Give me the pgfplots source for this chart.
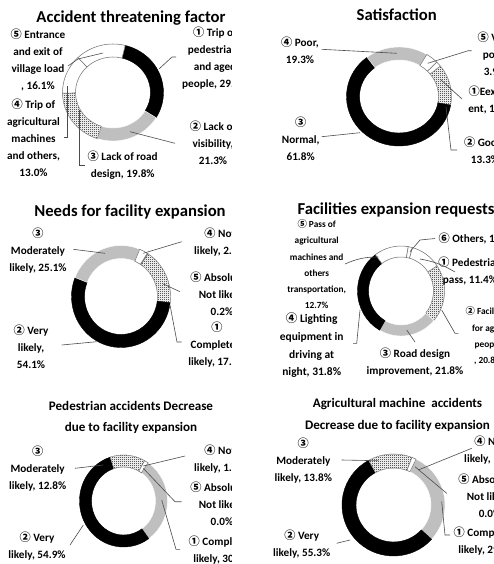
\documentclass[border=0pt]{standalone}
\usepackage{fontspec}
\setmainfont{Carlito}
\newfontfamily\cj{Noto Sans CJK KR}
\newcommand\cn[1]{{\cj #1}}
\usepackage{pgfplots}
\pgfplotsset{compat=1.18}
\usetikzlibrary{patterns}

\pgfdeclarepatternformonly{finedots}{\pgfqpoint{0pt}{0pt}}{\pgfqpoint{1.5pt}{1.5pt}}{\pgfqpoint{1.5pt}{1.5pt}}{%
  \pgfpathcircle{\pgfqpoint{0.375pt}{0.375pt}}{0.42pt}%
  \pgfpathcircle{\pgfqpoint{1.125pt}{1.125pt}}{0.42pt}%
  \pgfusepath{fill}}

\tikzset{
 seg0/.style={fill=black, draw=black, line width=0.3pt},
 seg1/.style={fill=black!25, draw=white, line width=0.3pt},
 seg2/.style={fill=white, postaction={pattern=finedots, pattern color=black}, draw=black!40, line width=0.3pt},
 seg3/.style={fill=white, draw=black!55, line width=0.4pt},
 segcur/.style={seg0},
 lead/.style={draw=black!70, line width=0.45pt},
 lab/.style={font=\bfseries\fontsize{8.4}{12.75}\selectfont, align=center, inner sep=0pt},
 slab/.style={font=\bfseries\fontsize{7}{12.2}\selectfont, align=center, inner sep=0pt},
 ttl/.style={font=\bfseries\fontsize{12.5}{14}\selectfont, align=center, inner sep=0pt},
 sttl/.style={font=\bfseries\fontsize{9.8}{16.2}\selectfont, align=center, inner sep=0pt},
}
\pgfdeclareplotmark{donutseg}{%
  \pgfmathsetmacro\aS{90-\segA}%
  \pgfmathsetmacro\aE{90-\segA-3.6*\segP}%
  \pgfmathsetmacro\rxo{0.75*\Rx}%
  \pgfmathsetmacro\ryo{0.75*\Ry}%
  \pgfmathsetmacro\rxi{0.75*(\Rx-\Th)}%
  \pgfmathsetmacro\ryi{0.75*(\Ry-\Th)}%
  \path[segcur] (\aS:\rxo pt and \ryo pt) arc[start angle=\aS, end angle=\aE, x radius=\rxo pt, y radius=\ryo pt] -- (\aE:\rxi pt and \ryi pt) arc[start angle=\aE, end angle=\aS, x radius=\rxi pt, y radius=\ryi pt] -- cycle;%
}
% one plot per ring segment: x = start angle (deg, clockwise from 12 o'clock), y = share in %
\pgfplotsset{
 donut/.style={hide axis, scale only axis, width=10pt, height=10pt,
  xmin=-1, xmax=1, ymin=-1, ymax=1, clip=false, anchor=center},
 seg/.style={only marks, mark=donutseg,
  x filter/.expression={0}, y filter/.expression={0},
  visualization depends on={rawx\as\segA},
  visualization depends on={rawy\as\segP},
  /tikz/segcur/.style={#1}},
}

\begin{document}
\begin{tikzpicture}[x=0.75pt,y=-0.75pt]
\path[use as bounding box] (0,0) rectangle (493,564);
\clip (0,0) rectangle (493,564);
\fill[white] (0,0) rectangle (493,564);

% ---------- Panel 1 ----------
\begin{scope}
\clip (0,0) rectangle (231,190);
\node[ttl] at (131,18) {Accident threatening factor};
\def\Rx{50.5}\def\Ry{48.5}\def\Th{13}
\begin{axis}[donut, at={({113*0.75pt},{-92.5*0.75pt})}]
\addplot[seg=seg0] coordinates {(14,29.8)};
\addplot[seg=seg1] coordinates {(121.28,21.3)};
\addplot[seg=seg2] coordinates {(197.96,19.8)};
\addplot[seg=seg3] coordinates {(269.24,13.0)};
\addplot[seg=seg3] coordinates {(316.04,16.1)};
\end{axis}
\node[lab] at (38,60.4) {\cn{⑤} Entrance\\and exit of\\village load\\, 16.1\%};
\node[lab] at (33.5,137.5) {\cn{④} Trip of\\agricultural\\machines\\and others,\\13.0\%};
\node[lab] at (122.7,165) {\cn{③} Lack of road\\design, 19.8\%};
\node[lab] at (213,143.1) {\cn{②} Lack of\\visibility,\\21.3\%};
\node[lab] at (215,57.9) {\cn{①} Trip of\\pedestrians\\and aged\\people, 29.8\%};
\draw[lead] (159,69) -- (172,57) -- (176,57);
\draw[lead] (130,131.7) -- (175,143.3);
\draw[lead] (79,110) -- (79,165) -- (85,165);
\draw[lead] (67,86) -- (67,137) -- (63.5,137);
\draw[lead] (68,66) -- (78,59) -- (103,53);
\end{scope}

% ---------- Panel 2 ----------
\node[ttl] at (396.7,15) {Satisfaction};
\def\Rx{52.5}\def\Ry{49.5}\def\Th{13}
\begin{axis}[donut, at={({399*0.75pt},{-96.5*0.75pt})}]
\addplot[seg=seg3] coordinates {(46,1.7)};
\addplot[seg=seg2] coordinates {(52.12,13.3)};
\addplot[seg=seg0] coordinates {(100,61.8)};
\addplot[seg=seg1] coordinates {(322.48,19.3)};
\addplot[seg=seg3] coordinates {(391.96,3.9)};
\end{axis}
\node[lab] at (300,50) {\cn{④} Poor,\\19.3\%};
\node[lab] at (495,53.3) {\cn{⑤} Very\\poor,\\3.9\%};
\node[lab] at (490,100) {\cn{①}Eexcell\\ent, 1.7\%};
\node[lab] at (485,150) {\cn{②} Good,\\13.3\%};
\node[lab] at (300.7,139) {\cn{③}\\Normal,\\61.8\%};
\draw[lead] (321.7,49.3) -- (396.7,53.3);
\draw[lead] (427.7,63.3) -- (468.3,50.7) -- (471.7,50.7);
\draw[lead] (440,79) -- (462,99);
\draw[lead] (446,107) -- (451,150) -- (457,150);
\draw[lead] (321.7,136.7) -- (360,132.7);

% ---------- Panel 3 ----------
\begin{scope}
\clip (0,190) rectangle (231,380);
\node[ttl] at (130,211.7) {Needs for facility expansion};
\def\Rx{49.5}\def\Ry{51}\def\Th{13}
\begin{axis}[donut, at={({121*0.75pt},{-296.5*0.75pt})}]
\addplot[seg=seg2] coordinates {(33,17.8)};
\addplot[seg=seg0] coordinates {(97.08,54.1)};
\addplot[seg=seg1] coordinates {(291.84,25.1)};
\addplot[seg=seg3] coordinates {(382.2,2.8)};
\addplot[seg=seg3] coordinates {(392.28,0.2)};
\end{axis}
\node[lab] at (38,250.7) {\cn{③}\\Moderately\\likely, 25.1\%};
\node[lab] at (31,347) {\cn{②} Very\\likely,\\54.1\%};
\node[lab] at (220,241.7) {\cn{④} Not\\likely, 2.8\%};
\node[lab] at (222,293.3) {\cn{⑤} Absolutely\\Not likely,\\0.2\%};
\node[lab] at (217,345) {\cn{①}\\Completely\\likely, 17.8\%};
\draw[lead] (73.3,249.3) -- (105,253.3);
\draw[lead] (181.7,241.7) -- (143.3,253.3);
\draw[lead] (180,291.7) -- (163.3,284);
\draw[lead] (181.7,342) -- (177,342) -- (170,305);
\draw[lead] (61.7,345) -- (96.7,341.7);
\end{scope}

% ---------- Panel 4 ----------
\node[ttl] at (396,210) {Facilities expansion requests};
\def\Rx{43.5}\def\Ry{45}\def\Th{11}
\begin{axis}[donut, at={({401*0.75pt},{-291*0.75pt})}]
\addplot[seg=seg3] coordinates {(15,11.4)};
\addplot[seg=seg2] coordinates {(56.04,20.8)};
\addplot[seg=seg1] coordinates {(130.92,21.8)};
\addplot[seg=seg0] coordinates {(209.4,31.8)};
\addplot[seg=seg3] coordinates {(323.88,12.7)};
\addplot[seg=seg3] coordinates {(369.6,1.5)};
\end{axis}
\node[slab] at (316.7,264.2) {\cn{⑤} Pass of\\agricultural\\machines and\\others\\transportation,\\12.7\%};
\node[lab,font=\bfseries\fontsize{8.6}{13.4}\selectfont] at (311.7,345.2) {\cn{④} Lighting\\equipment in\\driving at\\night, 31.8\%};
\node[lab] at (415,362.5) {\cn{③} Road design\\improvement, 21.8\%};
\node[lab,anchor=west] at (438.3,238.3) {\cn{⑥} Others, 1.5\%};
\node[lab] at (470,271) {\cn{①} Pedestrian\\pass, 11.4\%};
\node[slab] at (488,336) {\cn{②} Facilities\\for aged\\people\\, 20.8\%};
\draw[lead] (410,251.7) -- (420,240) -- (435,238.5);
\draw[lead] (420,259) to[bend left=10] (455,272);
\draw[lead] (345,264) to[bend left=12] (378.3,257);
\draw[lead] (360,310) -- (356.7,343.3) -- (353,343.3);
\draw[lead] (406.7,330) -- (415,342);
\draw[lead] (441.7,310) -- (455,333.3) -- (458.3,333.3);

% ---------- Panel 5 ----------
\begin{scope}
\clip (0,380) rectangle (231,564);
\node[sttl] at (131,417.5) {Pedestrian accidents Decrease\\due to facility expansion};
\def\Rx{44}\def\Ry{46}\def\Th{12}
\begin{axis}[donut, at={({123.5*0.75pt},{-501*0.75pt})}]
\addplot[seg=seg1] coordinates {(34,30.8)};
\addplot[seg=seg0] coordinates {(144.88,54.9)};
\addplot[seg=seg2] coordinates {(342.52,12.8)};
\addplot[seg=seg3] coordinates {(388.6,1.5)};
\end{axis}
\node[lab] at (37.7,468.8) {\cn{③}\\Moderately\\likely, 12.8\%};
\node[lab] at (37,545.8) {\cn{②} Very\\likely, 54.9\%};
\node[lab] at (220,458.7) {\cn{④} Not\\likely, 1.5\%};
\node[lab] at (222,503.7) {\cn{⑤} Absolutely\\Not likely,\\0.0\%};
\node[lab] at (222,549.7) {\cn{①} Completely\\likely, 30.8\%};
\draw[lead] (75,468.3) -- (103.3,465);
\draw[lead] (185,456) -- (143.3,466);
\draw[lead] (143.3,468.3) -- (175,501.7) -- (181.7,501.7);
\draw[lead] (161.7,500) -- (176,549.3) -- (180,549.3);
\draw[lead] (70,545) -- (83.3,525);
\end{scope}

% ---------- Panel 6 ----------
\node[sttl] at (397.5,415) {Agricultural machine\ \ accidents\\Decrease due to facility expansion};
\def\Rx{51.5}\def\Ry{51}\def\Th{14}
\begin{axis}[donut, at={({393.5*0.75pt},{-505*0.75pt})}]
\addplot[seg=seg1] coordinates {(26,29.5)};
\addplot[seg=seg0] coordinates {(132.2,55.3)};
\addplot[seg=seg2] coordinates {(331.28,13.8)};
\addplot[seg=seg3] coordinates {(380.96,1.4)};
\end{axis}
\node[lab] at (303.3,460.5) {\cn{③}\\Moderately\\likely, 13.8\%};
\node[lab] at (301.7,543.8) {\cn{②} Very\\likely, 55.3\%};
\node[lab] at (490,449.7) {\cn{④} Not\\likely, 1.4\%};
\node[lab] at (490,496) {\cn{⑤} Absolutely\\Not likely,\\0.0\%};
\node[lab] at (487,541) {\cn{①} Completely\\likely, 29.5\%};
\draw[lead] (341.7,460) -- (378.3,460.7);
\draw[lead] (471.7,448.3) -- (418.3,470);
\draw[lead] (446.7,493.3) -- (415,466.7);
\draw[lead] (441.7,501.7) -- (445,535) -- (450,535);
\draw[lead] (336.7,543.3) -- (350,540);
\end{tikzpicture}
\end{document}
